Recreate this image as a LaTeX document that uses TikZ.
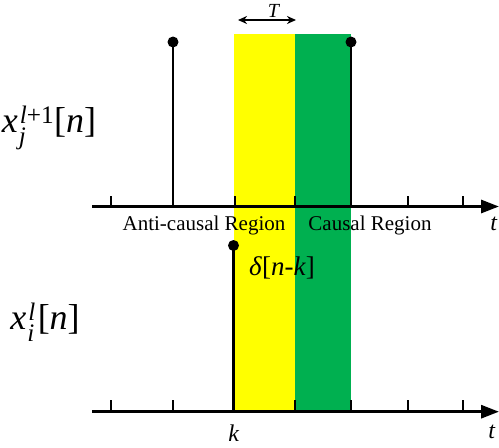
\documentclass[tikz,border=0pt]{standalone}
\usepackage{fontspec}
\setmainfont{Liberation Serif}
\usepackage{amsmath}
\usetikzlibrary{arrows.meta}
\definecolor{antiyellow}{RGB}{255,255,0}
\definecolor{causalgreen}{RGB}{0,176,80}

\begin{document}
\begin{tikzpicture}[x=1pt,y=-1pt,line width=2.8pt,>=Stealth,
  stemdot/.style={circle,fill=black,inner sep=0pt,minimum size=11pt},
  tickline/.style={line width=2pt},
  axisline/.style={line width=3pt,-{Triangle[length=18pt,width=13pt]}}]
\useasboundingbox (0,0) rectangle (499,448);
% 两个区域（反因果 / 因果）
\fill[antiyellow] (234,34) rectangle (295,413);
\fill[causalgreen] (295,34) rectangle (351,413);
% 上轴
\coordinate (topstart) at (92,206.5);
\coordinate (topend) at (499,206.5);
\draw[axisline] (topstart) -- (topend);
\foreach \x in {111,173,235,295,351,408,463}
  \draw[tickline] (\x,206.5) -- (\x,196);
% 下轴
\coordinate (botstart) at (92,411.7);
\coordinate (botend) at (499,411.7);
\draw[axisline] (botstart) -- (botend);
\foreach \x in {111,173,295,351,408,463}
  \draw[tickline] (\x,411.7) -- (\x,400);
% 上图冲激
\node[stemdot] (uppera) at (173,42) {};
\coordinate (upperabase) at (173,206.5);
\draw (uppera.center) -- (upperabase);
\node[stemdot] (upperb) at (351,42) {};
\coordinate (upperbbase) at (351,206.5);
\draw (upperb.center) -- (upperbbase);
% 下图冲激 delta[n-k]
\node[stemdot] (lowerk) at (233.5,245.5) {};
\coordinate (lowerkbase) at (233.5,411.7);
\draw (lowerk.center) -- (lowerkbase);
% 宽度 T
\coordinate (tleft) at (238,20);
\coordinate (tright) at (296,20);
\draw[line width=1.8pt,{Stealth[length=9pt,width=8pt]}-{Stealth[length=9pt,width=8pt]}] (tleft) -- (tright);
\node[inner sep=1pt] (tlabel) at (274,10.5) {\fontsize{20}{22}\selectfont\textit{T}};
% 文字
\node (xtop) at (49,128) {\fontsize{36}{40}\selectfont $\textit{x}_{\kern1pt\textit{j}}^{\kern2pt\textit{l}\textrm{+1}}$[\textit{n}]};
\node (xbot) at (45,322) {\fontsize{36}{40}\selectfont $\textit{x}_{\kern1pt\textit{i}}^{\kern2pt\textit{l}}$\kern2pt[\textit{n}]};
\node (anti) at (204,225) {\fontsize{21}{24}\selectfont Anti-causal Region};
\node (causal) at (370,225) {\fontsize{21}{24}\selectfont Causal Region};
\node (delta) at (282,268) {\fontsize{27}{30}\selectfont\textit{δ}[\textit{n}-\textit{k}]};
\node (ttop) at (494,224) {\fontsize{24}{26}\selectfont\textit{t}};
\node (tbot) at (492,432) {\fontsize{24}{26}\selectfont\textit{t}};
\node (klabel) at (234,433) {\fontsize{24}{26}\selectfont\textit{k}};
\end{tikzpicture}
\end{document}
